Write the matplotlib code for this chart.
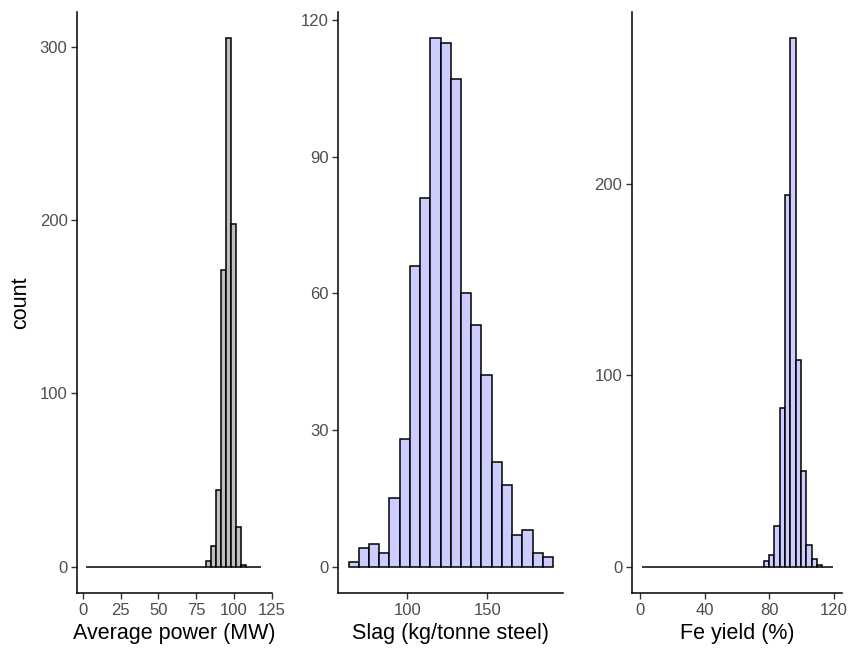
import matplotlib
matplotlib.use('Agg')
import matplotlib.pyplot as plt
import numpy as np

plt.rcParams['font.family'] = ['Liberation Sans', 'DejaVu Sans']

# --- data (histogram counts)
POWER_START = 2.2
POWER_WIDTH = 3.3
POWER_COUNTS = [0] * 24 + [3, 12, 44, 171, 305, 198, 23, 1] + [0] * 3

SLAG_START = 63.1
SLAG_WIDTH = 6.41
SLAG_COUNTS = [1, 4, 5, 3, 15, 28, 66, 81, 116, 115,
               107, 60, 53, 42, 23, 18, 7, 8, 3, 2]

FE_START = 0.85
FE_WIDTH = 3.29
FE_COUNTS = [0] * 23 + [3, 6, 21, 83, 194, 276, 108, 50, 11, 4, 1] + [0] * 2

POWER_XTICKS = [0, 25, 50, 75, 100, 125]
POWER_YTICKS = [0, 100, 200, 300]
SLAG_XTICKS = [100, 150]
SLAG_YTICKS = [0, 30, 60, 90, 120]
FE_XTICKS = [0, 40, 80, 120]
FE_YTICKS = [0, 100, 200]

#--- STYLE
TICK_COLOR = '#4D4D4D'
TICK_SIZE = 12
TITLE_SIZE = 15.5
GREY_FILL = '#BEBEBE'
BLUE_FILL = '#CCCCFF'


def hist_panel(ax, start, width, counts, fill, xticks, yticks, xlabel, ylabel=None):
    counts = np.asarray(counts)
    edges = start + width * np.arange(len(counts))
    ax.bar(edges, counts, width=width, align='edge', color=fill,
           edgecolor='black', linewidth=1.1)
    lo, hi = start, start + width * len(counts)
    pad = 0.05 * (hi - lo)
    ax.set_xlim(lo - pad, hi + pad)
    top = counts.max()
    ax.set_ylim(-0.05 * top, 1.05 * top)
    ax.set_xticks(xticks)
    ax.set_yticks(yticks)
    for s in ['top', 'right']:
        ax.spines[s].set_visible(False)
    for s in ['left', 'bottom']:
        ax.spines[s].set_linewidth(1.1)
        ax.spines[s].set_color('black')
    ax.tick_params(colors='#333333', labelcolor=TICK_COLOR, labelsize=TICK_SIZE,
                   length=4.5, width=1.0, pad=2.5)
    ax.set_xlabel(xlabel, fontsize=TITLE_SIZE, labelpad=4)
    if ylabel:
        ax.set_ylabel(ylabel, fontsize=TITLE_SIZE, labelpad=6)


def main():
    fig = plt.figure(figsize=(8.5, 6.53), dpi=100)
    bottom, height = 0.092, 0.890
    ax1 = fig.add_axes([0.0909, bottom, 0.229, height])
    ax2 = fig.add_axes([0.398, bottom, 0.2647, height])
    ax3 = fig.add_axes([0.7435, bottom, 0.2476, height])

    hist_panel(ax1, POWER_START, POWER_WIDTH, POWER_COUNTS, GREY_FILL,
               POWER_XTICKS, POWER_YTICKS, 'Average power (MW)', 'count')
    hist_panel(ax2, SLAG_START, SLAG_WIDTH, SLAG_COUNTS, BLUE_FILL,
               SLAG_XTICKS, SLAG_YTICKS, 'Slag (kg/tonne steel)')
    hist_panel(ax3, FE_START, FE_WIDTH, FE_COUNTS, BLUE_FILL,
               FE_XTICKS, FE_YTICKS, 'Fe yield (%)')

    fig.savefig('out.png', dpi=100)


if __name__ == '__main__':
    main()
